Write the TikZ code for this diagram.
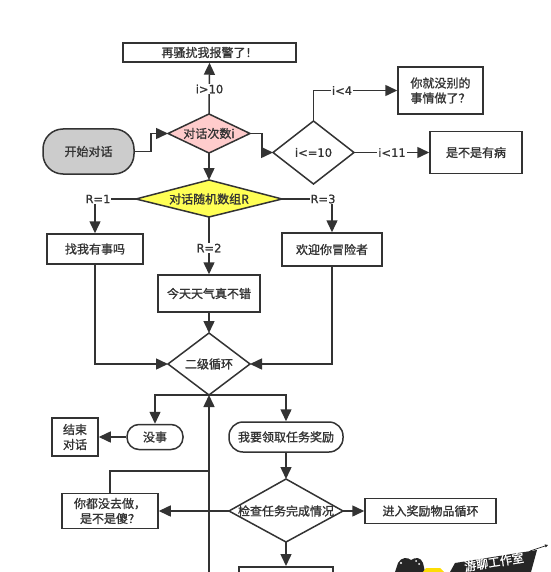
\documentclass[tikz,border=0pt]{standalone}
\usepackage{fontspec}
\setmainfont[AutoFakeBold=1.2]{Noto Sans CJK SC}
\newfontfamily\latinlab[AutoFakeBold=0.8]{DejaVu Sans}
\usetikzlibrary{arrows.meta,shapes.geometric,calc}
\definecolor{ink}{HTML}{333333}
\definecolor{pinkfill}{HTML}{FFCCCC}
\definecolor{yellowfill}{HTML}{FFFF55}
\tikzset{
  base/.style={draw=ink,line width=1.5pt,text=ink,inner sep=0pt,font=\fontsize{12}{15}\selectfont\bfseries,align=center},
  rbox/.style={base,rectangle},
  pill/.style={base,rectangle,rounded corners=11pt},
  flow/.style={draw=ink,line width=1.5pt,-{Triangle[length=12pt,width=11pt]}},
  plain/.style={draw=ink,line width=1.5pt},
  lab/.style={fill=white,inner sep=1pt,text=ink,font=\latinlab\bfseries\fontsize{11.5}{14}\selectfont}
}
\begin{document}
\begin{tikzpicture}[x=1pt,y=-1pt]
\useasboundingbox (0,0) rectangle (550,572);
\clip (0,0) rectangle (550,572);
% boxes
\node[rbox,minimum width=173pt,minimum height=19pt] (alarm) at (209.5,52.5) {再骚扰我报警了！};
\node[pill,fill=black!20,minimum width=91pt,minimum height=45pt,rounded corners=20pt] (start) at (88.5,151.5) {开始对话};
\node[rbox,minimum width=85pt,minimum height=47pt] (nothing) at (440.5,90.5) {你就没别的\\事情做了？};
\node[rbox,minimum width=92pt,minimum height=42pt] (ill) at (476,152.5) {是不是有病};
\node[rbox,minimum width=96pt,minimum height=30pt] (r1) at (95,249) {找我有事吗};
\node[rbox,minimum width=102pt,minimum height=37pt] (r2) at (209,293.5) {今天天气真不错};
\node[rbox,minimum width=100pt,minimum height=33pt] (r3) at (332,249.5) {欢迎你冒险者};
\node[rbox,minimum width=46pt,minimum height=38pt] (end) at (75,437) {结束\\对话};
\node[pill,minimum width=56pt,minimum height=25pt,rounded corners=12pt] (none) at (155,437) {没事};
\node[pill,minimum width=114pt,minimum height=30pt,rounded corners=14pt] (claim) at (286,437) {我要领取任务奖励};
\node[rbox,minimum width=96pt,minimum height=35pt] (silly) at (110,511) {你都没去做，\\是不是傻？};
\node[rbox,minimum width=131pt,minimum height=25pt] (reward) at (430.5,511) {进入奖励物品循环};
\node[rbox,minimum width=94pt,minimum height=40pt,anchor=north] (next) at (286,566) {};
% diamonds
\newcommand{\diam}[7]{%
  \coordinate (#1 west) at (#3,#2); \coordinate (#1 east) at (#4,#2);
  \coordinate (#1 north) at ({(#3+#4)/2},#5); \coordinate (#1 south) at ({(#3+#4)/2},#6);
  \draw[draw=ink,line width=1.5pt,fill=#7] (#1 west)--(#1 north)--(#1 east)--(#1 south)--cycle;}
\diam{count}{133.5}{168}{250}{114}{153}{pinkfill}
\diam{lim}{152.5}{273}{354}{121}{184}{white}
\diam{rand}{199}{136}{282}{180}{217}{yellowfill}
\diam{loop}{364}{168}{250}{333}{395}{white}
\diam{check}{511}{229}{343}{479}{542}{white}
\node[base,draw=none] (tcount) at (209,133.5) {对话次数i};
\node[base,draw=none,font=\latinlab\bfseries\fontsize{11.5}{14}\selectfont] (tlim) at (313.5,152.5) {i<=10};
\node[base,draw=none] (trand) at (209,199) {对话随机数组R};
\node[base,draw=none] (tloop) at (209,364) {二级循环};
\node[base,draw=none] (tcheck) at (286,511) {检查任务完成情况};
% connectors
\draw[flow] (count north) -- (alarm.south);
\node[lab] (l10) at (209.5,89) {i>10};
\draw[flow] (start.east) -- (151,151.5) -- (151,133.5) -- (count west);
\draw[flow] (count east) -- (262,133.5) -- (262,152.5) -- (lim west);
\draw[flow] (count south) -- (rand north);
\draw[flow] (lim north) -- (313.5,90.5) -- (nothing.west);
\node[lab] (l4) at (342,90.5) {i<4};
\draw[flow] (lim east) -- (ill.west);
\node[lab] (l11) at (392,152.5) {i<11};
\draw[flow] (rand west) -- (95,199) -- (r1.north);
\node[lab] (lr1) at (98,199) {R=1};
\draw[flow] (rand east) -- (332,199) -- (r3.north);
\node[lab] (lr3) at (323,199) {R=3};
\draw[flow] (rand south) -- (r2.north);
\node[lab] (lr2) at (209,248) {R=2};
\draw[flow] (r2.south) -- (loop north);
\draw[flow] (r1.south) -- (95,364) -- (loop west);
\draw[flow] (r3.south) -- (332,364) -- (loop east);
\draw[flow] (loop south) -- (155,395) -- (none.north);
\draw[flow] (loop south) -- (286,395) -- (claim.north);
\draw[flow] (none.west) -- (end.east);
\draw[flow] (claim.south) -- (check north);
\draw[flow] (check east) -- (reward.west);
\draw[flow] (check west) -- (silly.east);
\draw[flow] (check south) -- (next.north);
\coordinate (bottomend) at (209,580);
\draw[flow] (bottomend) -- (loop south);
\coordinate (joinback) at (209,471);
\draw[plain] (silly.north) -- (110,471) -- (joinback);
% watermark
\fill[black!85] (450,572) -- (455,563) -- (537,550) -- (531,572) -- cycle;
\draw[black!85,line width=.7pt,-{Triangle[length=3pt,width=3pt]}] (530,551) -- (548,545);
\fill[black!85] (395,572) -- (398,563) .. controls (401,557) and (408,557) .. (411,560) .. controls (415,557) and (421,557) .. (423,563) -- (425,572) -- cycle;
\fill[white] (401,563) circle (1.2pt) (416,561) circle (1pt) (419,564) circle (1pt);
\fill[yellow!80!orange] (423,572) -- (426,568) -- (440,568) -- (444,572) -- cycle;
\node[text=white,inner sep=0pt,rotate=9,font=\fontsize{12}{12}\selectfont\bfseries] (logo) at (494,562) {游聊工作室};
\end{tikzpicture}
\end{document}
